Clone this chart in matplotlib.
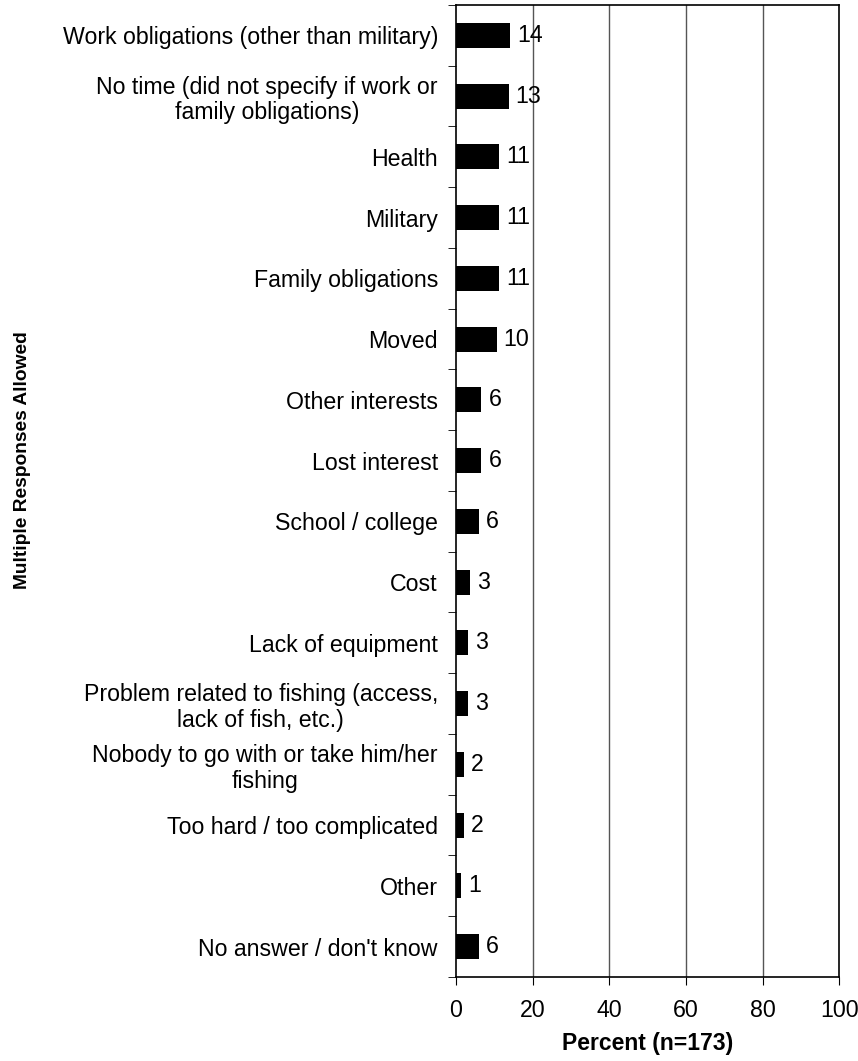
import numpy as np
import matplotlib.pyplot as plt

plt.rcParams['font.family'] = ['Liberation Sans', 'DejaVu Sans']

categories = ["Work obligations (other than military)",
              "No time (did not specify if work or\nfamily obligations)",
              "Health", "Military", "Family obligations", "Moved",
              "Other interests", "Lost interest", "School / college", "Cost",
              "Lack of equipment",
              "Problem related to fishing (access,\nlack of fish, etc.)",
              "Nobody to go with or take him/her\nfishing",
              "Too hard / too complicated", "Other", "No answer / don't know"]
values = [14.1, 13.7, 11.3, 11.3, 11.3, 10.6, 6.6, 6.6, 6.0, 3.7, 3.2, 3.1, 2.0, 2.0, 1.4, 6.0]
labels = ["14", "13", "11", "11", "11", "10", "6", "6", "6", "3", "3", "3", "2", "2", "1", "6"]

fig = plt.figure(figsize=(8.58, 10.61), dpi=100)
ax = fig.add_axes([0.5315, 0.0792, 0.4465, 0.9161])

y = np.arange(len(categories))
ax.barh(y, values, height=0.41, color='black', zorder=3)
for yi, v, lab in zip(y, values, labels):
    ax.text(v + 1.85, yi, lab, va='center', ha='left', fontsize=16.7, zorder=4)

ax.set_xlim(0, 100)
ax.set_ylim(len(categories) - 0.5, -0.5)
ax.set_xticks([0, 20, 40, 60, 80, 100])
ax.tick_params(axis='x', direction='out', length=6, labelsize=16.7, pad=10)
ax.set_yticks(y)
ax.set_yticklabels(categories, fontsize=16.7)
ax.tick_params(axis='y', which='major', length=0, pad=13)
for t in ax.get_yticklabels():
    t.set_multialignment('center')
    t.set_linespacing(1.15)
ax.set_yticks(np.arange(-0.5, len(categories) + 0.5, 1), minor=True)
ax.tick_params(axis='y', which='minor', direction='out', length=6)

for gx in [20, 40, 60, 80]:
    ax.axvline(gx, color='#555555', linewidth=1.0, zorder=1)
for s in ax.spines.values():
    s.set_linewidth(1.2)
    s.set_color('black')

ax.set_xlabel('Percent (n=173)', fontsize=16.5, fontweight='bold', labelpad=7)
fig.text(0.026, 0.566, 'Multiple Responses Allowed', rotation=90, va='center', ha='center',
         fontsize=13.8, fontweight='bold')

fig.savefig('out.png', dpi=100)
